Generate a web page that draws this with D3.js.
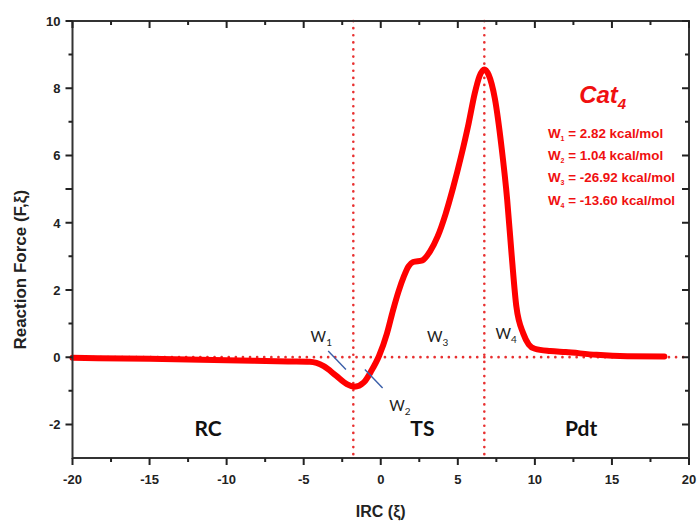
<!DOCTYPE html>
<html>
<head>
  <script src="https://d3js.org/d3.v7.min.js"></script>
  <style>
    body { margin: 0; background: #fff; }
    .tick-label { font: bold 13px "Liberation Sans", Arial, sans-serif; fill: #222; }
    .axis-label { font: bold 16px "Liberation Sans", Arial, sans-serif; fill: #222; }
    .region { font: bold 21px "Lato", "Open Sans", sans-serif; fill: #111; }
    .wlab { font: 15px "Lato", "Open Sans", sans-serif; fill: #222; }
    .legend { font: bold 13.4px "Liberation Sans", Arial, sans-serif; fill: #f01010; }
  </style>
</head>
<body>
<div id="chart"></div>
<script>
// IRC coordinate and reaction force
const irc   = [-20, -15, -10, -6, -4.6, -3.7, -2.9, -2.2, -1.7, -1.1, -0.6, -0.1, 0.4, 0.8, 1.15, 1.5, 1.8, 2.1, 2.7, 3.2, 3.7, 4.2, 4.7, 5.2, 5.7, 6.1, 6.4, 6.72, 7.0, 7.4, 7.85, 8.2, 8.5, 8.8, 9.25, 9.6, 10, 11, 12, 14, 16, 18.4];
const force = [-0.02, -0.05, -0.09, -0.13, -0.14, -0.27, -0.55, -0.8, -0.88, -0.75, -0.4, 0.05, 0.7, 1.4, 1.95, 2.4, 2.7, 2.83, 2.88, 3.15, 3.6, 4.25, 5.05, 5.95, 6.95, 7.85, 8.35, 8.56, 8.4, 7.7, 6.2, 4.7, 3.0, 1.5, 0.7, 0.38, 0.25, 0.18, 0.15, 0.07, 0.03, 0.02];

const xTicks = [-20, -15, -10, -5, 0, 5, 10, 15, 20];
const xMinor = [-17.5, -12.5, -7.5, -2.5, 2.5, 7.5, 12.5, 17.5];
const yTicks = [-2, 0, 2, 4, 6, 8, 10];
const yMinor = [-1, 1, 3, 5, 7, 9];
const dividers = [-1.78, 6.72];   // dotted vertical lines
const regions = [{ t: "RC", x: -11.2, y: -2.35 }, { t: "TS", x: 2.7, y: -2.35 }, { t: "Pdt", x: 13, y: -2.35 }];
const work = ["2.82", "1.04", "-26.92", "-13.60"];
const wLabels = [{ n: "1", x: -4.55, y: 0.45 }, { n: "2", x: 0.55, y: -1.6 }, { n: "3", x: 3.0, y: 0.45 }, { n: "4", x: 7.45, y: 0.55 }];
const tangents = [[[-3.41, 0.18], [-2.26, -0.37]], [[-1.03, -0.37], [0.12, -0.92]]];

const W = 697, H = 522;
const margin = { top: 21, right: 8, bottom: 64, left: 72.5 };
const w = W - margin.left - margin.right, h = H - margin.top - margin.bottom;

const svg = d3.select("#chart").append("svg")
  .attr("width", W).attr("height", H)
  .append("g").attr("transform", `translate(${margin.left},${margin.top})`);

const x = d3.scaleLinear().domain([-20, 20]).range([0, w]);
const y = d3.scaleLinear().domain([-3, 10]).range([h, 0]);

// dotted red guides
const dot = { stroke: "#e83030", width: 2.6, dash: "0.1 7" };
svg.append("line")
  .attr("x1", 0).attr("x2", w).attr("y1", y(0)).attr("y2", y(0))
  .attr("stroke", dot.stroke).attr("stroke-width", dot.width)
  .attr("stroke-dasharray", dot.dash).attr("stroke-linecap", "round");
svg.selectAll(".vdiv").data(dividers).enter().append("line")
  .attr("x1", d => x(d)).attr("x2", d => x(d)).attr("y1", 0).attr("y2", h)
  .attr("stroke", dot.stroke).attr("stroke-width", dot.width)
  .attr("stroke-dasharray", dot.dash).attr("stroke-linecap", "round");

// curve
const pts = irc.map((v, i) => [v, force[i]]);
svg.append("path")
  .datum(pts)
  .attr("fill", "none")
  .attr("stroke", "#ff0000")
  .attr("stroke-width", 6)
  .attr("stroke-linecap", "round")
  .attr("stroke-linejoin", "round")
  .attr("d", d3.line().x(d => x(d[0])).y(d => y(d[1])).curve(d3.curveMonotoneX));

// tangent markers
svg.selectAll(".tan").data(tangents).enter().append("line")
  .attr("x1", d => x(d[0][0])).attr("y1", d => y(d[0][1]))
  .attr("x2", d => x(d[1][0])).attr("y2", d => y(d[1][1]))
  .attr("stroke", "#3a5ea8").attr("stroke-width", 1.4);

// frame
svg.append("rect")
  .attr("x", 0).attr("y", 0).attr("width", w).attr("height", h)
  .attr("fill", "none").attr("stroke", "#333").attr("stroke-width", 2);

// ticks: bottom/left point outward, top/right point inward (drawn as one path)
const tickLen = v => (xTicks.includes(v) || yTicks.includes(v)) ? 7 : 4;
let tp = "";
xTicks.concat(xMinor).forEach(v => {
  tp += `M${x(v)},${h}v${tickLen(v)}M${x(v)},0v${tickLen(v)}`;
});
yTicks.concat(yMinor).forEach(v => {
  tp += `M0,${y(v)}h${-tickLen(v)}M${w},${y(v)}h${-tickLen(v)}`;
});
svg.append("path").attr("d", tp)
  .attr("fill", "none").attr("stroke", "#222").attr("stroke-width", 2);

// tick labels
svg.selectAll(".xl").data(xTicks).enter().append("text")
  .attr("class", "tick-label").attr("text-anchor", "middle")
  .attr("x", d => x(d)).attr("y", h + 26).text(d => d);
svg.selectAll(".yl").data(yTicks).enter().append("text")
  .attr("class", "tick-label").attr("text-anchor", "end")
  .attr("x", -12).attr("y", d => y(d) + 5).text(d => d);

// axis titles
svg.append("text").attr("class", "axis-label").attr("text-anchor", "middle")
  .attr("x", x(0)).attr("y", h + 59).text("IRC (ξ)");
svg.append("text").attr("class", "axis-label").attr("text-anchor", "middle")
  .style("font-size", "17px")
  .attr("transform", `translate(${-47},${y(2.6)}) rotate(-90)`)
  .text("Reaction Force (F,ξ)");

// region labels
svg.selectAll(".region").data(regions).enter().append("text")
  .attr("class", "region").attr("text-anchor", "middle")
  .attr("x", d => x(d.x)).attr("y", d => y(d.y)).text(d => d.t);

// W labels
const wl = svg.selectAll(".wlab").data(wLabels).enter().append("text")
  .attr("class", "wlab").attr("x", d => x(d.x)).attr("y", d => y(d.y));
wl.append("tspan").text("W");
wl.append("tspan").attr("font-size", "10px").attr("dy", 4).text(d => d.n);

// Cat4 legend
const cat = svg.append("text").attr("x", x(14.4)).attr("y", y(7.55))
  .attr("text-anchor", "middle")
  .style("font", "italic bold 24px 'Liberation Sans', Arial, sans-serif").attr("fill", "#f01010");
cat.append("tspan").text("Cat");
cat.append("tspan").attr("font-size", "15px").attr("dy", 6).text("4");

const leg = svg.selectAll(".legend").data(work).enter().append("text")
  .attr("class", "legend").attr("x", x(10.85)).attr("y", (d, i) => y(6.52 - i * 0.66));
leg.append("tspan").text("W");
leg.append("tspan").attr("font-size", "7px").attr("dy", 3).text((d, i) => i + 1);
leg.append("tspan").attr("dy", -3).text(d => ` = ${d} kcal/mol`);
</script>
</body>
</html>
